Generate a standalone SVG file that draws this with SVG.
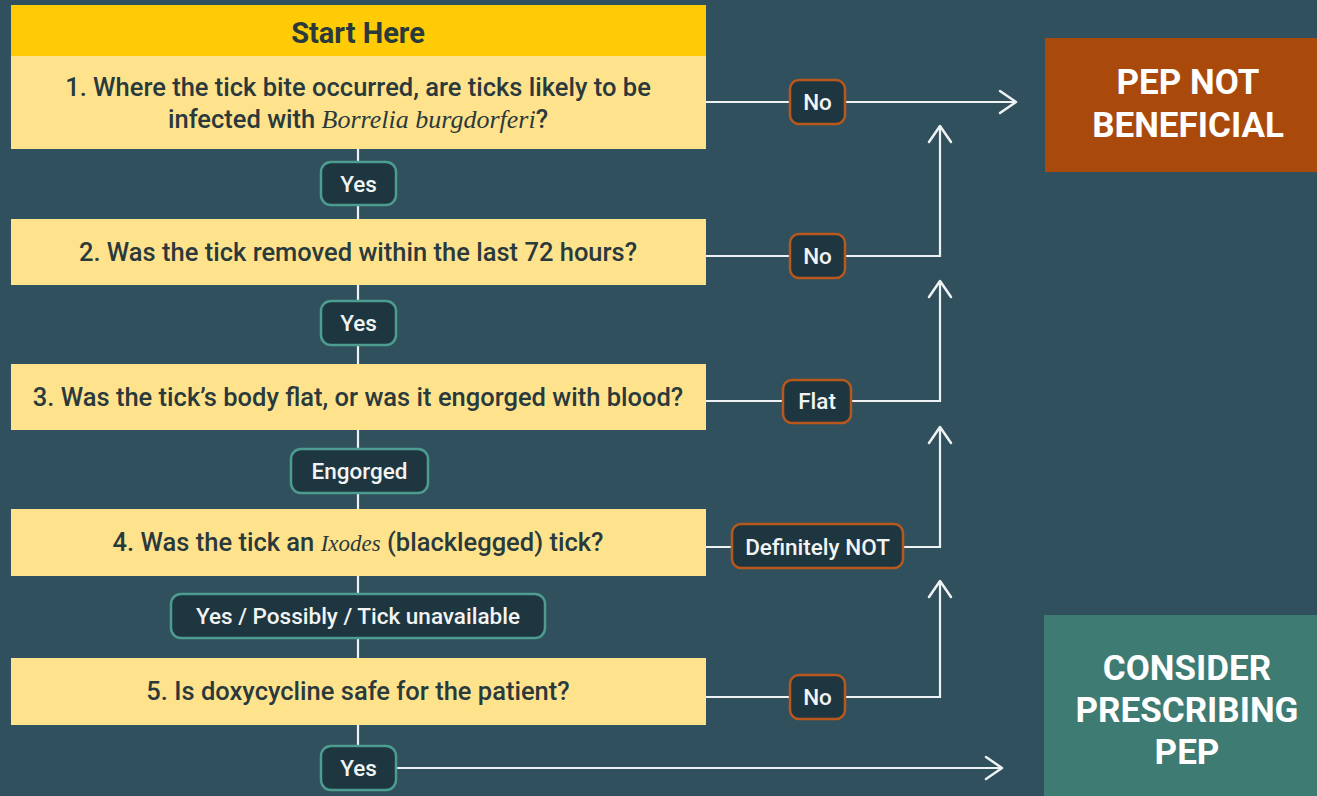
<svg xmlns="http://www.w3.org/2000/svg" width="1317" height="796" viewBox="0 0 1317 796">
<defs>
<marker id="arr" markerUnits="userSpaceOnUse" markerWidth="30" markerHeight="30" refX="0" refY="0" viewBox="-20 -15 30 30" orient="auto">
<path d="M-16,-11 L0,0 L-16,11" fill="none" stroke="#eef2f2" stroke-width="2.5" stroke-linecap="round" stroke-linejoin="round"/>
</marker>
<style>
.q{fill:#fee38c}
.qt{font-family:Roboto,"Liberation Sans",sans-serif;font-weight:500;font-size:25.5px;fill:#2a393c;text-anchor:middle}
.it{font-family:"Liberation Serif",serif;font-style:italic;font-weight:400;font-size:26px}
.ln{fill:none;stroke:#eef2f2;stroke-width:2.2}
.py{fill:#1e3640;stroke:#4c9c90;stroke-width:2.5}
.pn{fill:#1e3640;stroke:#b9571c;stroke-width:2.5}
.pt{font-family:Roboto,"Liberation Sans",sans-serif;font-weight:500;font-size:22.5px;fill:#f2f4f4;text-anchor:middle}
.rt{font-family:Roboto,"Liberation Sans",sans-serif;font-weight:700;font-size:35px;fill:#ffffff;text-anchor:middle}
</style>
</defs>
<rect width="1317" height="796" fill="#30505d"/>

<g id="connectors">
<line class="ln" x1="358" y1="149" x2="358" y2="219"/>
<line class="ln" x1="358" y1="285" x2="358" y2="364"/>
<line class="ln" x1="358" y1="430" x2="358" y2="509"/>
<line class="ln" x1="358" y1="576" x2="358" y2="658"/>
<line class="ln" x1="358" y1="725" x2="358" y2="746"/>
<path class="ln" d="M706,102 H1016" marker-end="url(#arr)"/>
<path class="ln" d="M706,256 H940 V126" marker-end="url(#arr)"/>
<path class="ln" d="M706,401 H940 V281" marker-end="url(#arr)"/>
<path class="ln" d="M706,547 H940 V427" marker-end="url(#arr)"/>
<path class="ln" d="M706,697 H940 V581" marker-end="url(#arr)"/>
<path class="ln" d="M396,768 H1002" marker-end="url(#arr)"/>
</g>

<g id="start">
<rect x="11" y="5" width="695" height="51" fill="#fecb05"/>
<text x="358" y="43" class="qt" style="font-weight:700;font-size:29px">Start Here</text>
</g>
<g id="q1">
<rect class="q" x="11" y="56" width="695" height="93"/>
<text x="358" y="96" class="qt">1. Where the tick bite occurred, are ticks likely to be</text>
<text x="358" y="128" class="qt">infected with <tspan class="it">Borrelia burgdorferi</tspan>?</text>
</g>
<g id="q2">
<rect class="q" x="11" y="219" width="695" height="66"/>
<text x="358" y="261" class="qt">2. Was the tick removed within the last 72 hours?</text>
</g>
<g id="q3">
<rect class="q" x="11" y="364" width="695" height="66"/>
<text x="358" y="406" class="qt">3. Was the tick’s body flat, or was it engorged with blood?</text>
</g>
<g id="q4">
<rect class="q" x="11" y="509" width="695" height="67"/>
<text x="358" y="551" class="qt">4. Was the tick an <tspan class="it" style="font-size:23px">Ixodes</tspan> (blacklegged) tick?</text>
</g>
<g id="q5">
<rect class="q" x="11" y="658" width="695" height="67"/>
<text x="358" y="700" class="qt">5. Is doxycycline safe for the patient?</text>
</g>

<g id="yes1"><rect class="py" x="321" y="162" width="75" height="43" rx="10"/><text class="pt" x="358.5" y="192">Yes</text></g>
<g id="yes2"><rect class="py" x="321" y="301" width="75" height="44" rx="10"/><text class="pt" x="358.5" y="331">Yes</text></g>
<g id="engorged"><rect class="py" x="291" y="449" width="137" height="44" rx="10"/><text class="pt" x="359.5" y="479">Engorged</text></g>
<g id="yes4"><rect class="py" x="171" y="594" width="374" height="44" rx="10"/><text class="pt" x="358" y="624">Yes / Possibly / Tick unavailable</text></g>
<g id="yes5"><rect class="py" x="321" y="746" width="75" height="44" rx="10"/><text class="pt" x="358.5" y="776">Yes</text></g>

<g id="no1"><rect class="pn" x="790" y="80" width="55" height="44" rx="9"/><text class="pt" x="817.5" y="110">No</text></g>
<g id="no2"><rect class="pn" x="790" y="234" width="55" height="44" rx="9"/><text class="pt" x="817.5" y="264">No</text></g>
<g id="flat"><rect class="pn" x="783" y="380" width="68" height="43" rx="9"/><text class="pt" x="817" y="409">Flat</text></g>
<g id="notixodes"><rect class="pn" x="732" y="524" width="171" height="44" rx="9"/><text class="pt" x="817.5" y="555">Definitely NOT</text></g>
<g id="no5"><rect class="pn" x="790" y="675" width="55" height="44" rx="9"/><text class="pt" x="817.5" y="705">No</text></g>

<g id="pep-not">
<rect x="1045" y="38" width="272" height="134" fill="#a94a0c"/>
<text class="rt" x="1188" y="94">PEP NOT</text>
<text class="rt" x="1188" y="137">BENEFICIAL</text>
</g>
<g id="pep-consider">
<rect x="1044" y="615" width="273" height="181" fill="#3e7b73"/>
<text class="rt" x="1187" y="680">CONSIDER</text>
<text class="rt" x="1187" y="722">PRESCRIBING</text>
<text class="rt" x="1187" y="764">PEP</text>
</g>
</svg>
